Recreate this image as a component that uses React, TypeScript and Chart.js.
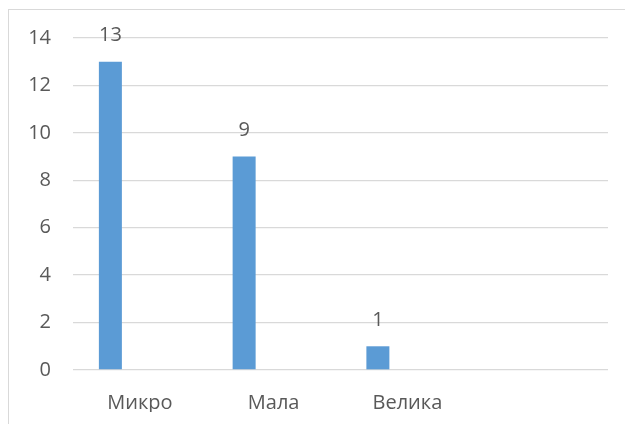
import React, { useEffect, useRef } from "react";
import { Chart, registerables } from "chart.js";

Chart.register(...registerables);

const categories = ["Микро", "Мала", "Велика", ""];
const seriesValues: (number | null)[] = [13, 9, 1, null];
const emptySeries: (number | null)[] = [null, null, null, null];
const yTicks = [0, 2, 4, 6, 8, 10, 12, 14];

const FONT = "'Open Sans', sans-serif";
const TEXT = "#595959";

const valueLabels = {
  id: "valueLabels",
  afterDatasetsDraw(chart: any) {
    const ctx = chart.ctx;
    const meta = chart.getDatasetMeta(0);
    ctx.save();
    ctx.font = `20px ${FONT}`;
    ctx.fillStyle = TEXT;
    ctx.textAlign = "center";
    ctx.textBaseline = "middle";
    meta.data.forEach((bar: any, i: number) => {
      const v = seriesValues[i];
      if (v === null || v === undefined) return;
      ctx.fillText(String(v), bar.x, bar.y - 26);
    });
    ctx.restore();
  },
};

export default function App() {
  const ref = useRef<HTMLCanvasElement | null>(null);
  useEffect(() => {
    if (!ref.current) return;
    const chart = new Chart(ref.current, {
      type: "bar",
      data: {
        labels: categories,
        datasets: [
          {
            data: seriesValues,
            backgroundColor: "#5b9bd5",
            borderWidth: 0,
            categoryPercentage: 0.882,
            barPercentage: 0.39,
          },
          {
            data: emptySeries,
            backgroundColor: "#ed7d31",
            borderWidth: 0,
            categoryPercentage: 0.882,
            barPercentage: 0.39,
          },
        ],
      },
      options: {
        responsive: false,
        animation: false,
        layout: { padding: { left: 19, right: 25, top: 28, bottom: 13 } },
        plugins: {
          legend: { display: false },
          tooltip: { enabled: false },
        },
        scales: {
          x: {
            grid: { display: false, drawTicks: false },
            border: { display: false },
            afterFit: (axis: any) => {
              axis.height = 42;
            },
            ticks: {
              color: TEXT,
              font: { family: FONT, size: 20 },
              padding: 21,
              maxRotation: 0,
              autoSkip: false,
            },
          },
          y: {
            min: 0,
            max: 14,
            afterBuildTicks: (axis: any) => {
              axis.ticks = yTicks.map((v) => ({ value: v }));
            },
            afterFit: (axis: any) => {
              axis.width = 45;
              axis.paddingTop = 0;
              axis.paddingBottom = 0;
            },
            grid: { color: "#d9d9d9", lineWidth: 1.3, drawTicks: false },
            border: { display: false },
            ticks: {
              color: TEXT,
              font: { family: FONT, size: 20 },
              padding: 22,
            },
          },
        },
      },
      plugins: [valueLabels],
    });
    return () => chart.destroy();
  }, []);

  return (
    <div
      style={{
        position: "relative",
        top: 1,
        width: 625,
        height: 416,
        boxSizing: "border-box",
        borderLeft: "1px solid #d9d9d9",
        borderTop: "1px solid #d9d9d9",
        overflow: "hidden",
      }}
    >
      <canvas ref={ref} width={624} height={415} style={{ display: "block" }} />
    </div>
  );
}
